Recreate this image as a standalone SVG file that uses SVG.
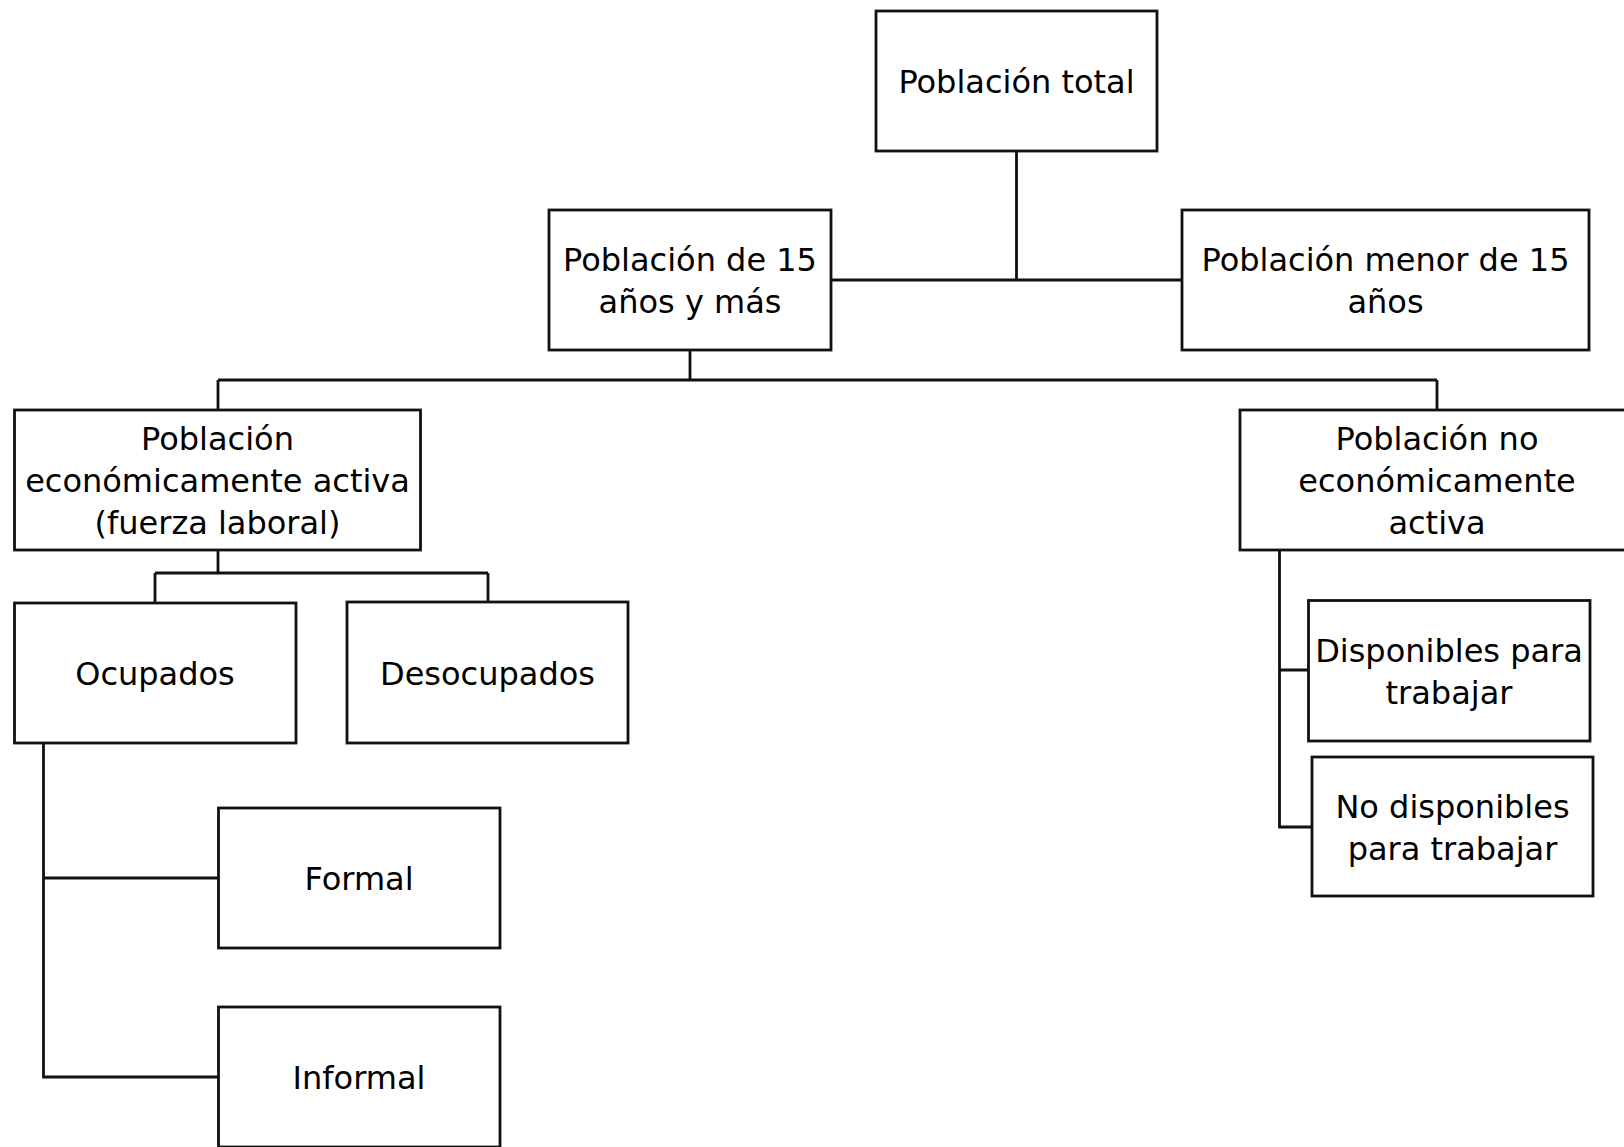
<svg xmlns="http://www.w3.org/2000/svg" width="1624" height="1147" viewBox="0 0 1624 1147">
<style>
.box{fill:#fff;stroke:#111;stroke-width:2.8}
.t{font-family:"DejaVu Sans","Noto Sans",sans-serif;font-size:32px;fill:#000;text-anchor:middle}
.c{fill:none;stroke:#111;stroke-width:2.8}
</style>
<rect width="1624" height="1147" fill="#fff"/>
<g id="connectors">
<path class="c" d="M1016.5,151 V280 M831,280 H1182"/>
<path class="c" d="M690,350 V380 M218,380 H1437 M218,380 V410 M1437,380 V410"/>
<path class="c" d="M218,550 V573 M155,573 H488 M155,573 V603 M488,573 V602"/>
<path class="c" d="M43.5,743 V1077 H218.5 M43.5,878 H218.5"/>
<path class="c" d="M1279.5,550 V827 H1312 M1279.5,670 H1308.5"/>
</g>
<g id="n1"><rect class="box" x="876" y="11" width="281" height="140"/><text class="t" x="1016.5" y="92.5">Población total</text></g>
<g id="n2"><rect class="box" x="549" y="210" width="282" height="140"/><text class="t" x="690" y="270.5">Población de 15</text><text class="t" x="690" y="312.5">años y más</text></g>
<g id="n3"><rect class="box" x="1182" y="210" width="407" height="140"/><text class="t" x="1385.5" y="270.5">Población menor de 15</text><text class="t" x="1385.5" y="312.5">años</text></g>
<g id="n4"><rect class="box" x="14.5" y="410" width="406" height="140"/><text class="t" x="217.5" y="449.5">Población</text><text class="t" x="217.5" y="491.5">económicamente activa</text><text class="t" x="217.5" y="533.5">(fuerza laboral)</text></g>
<g id="n5"><rect class="box" x="1240" y="410" width="420" height="140"/><text class="t" x="1437" y="449.5">Población no</text><text class="t" x="1437" y="491.5">económicamente</text><text class="t" x="1437" y="533.5">activa</text></g>
<g id="n6"><rect class="box" x="14.5" y="603" width="281.5" height="140"/><text class="t" x="155" y="684.5">Ocupados</text></g>
<g id="n7"><rect class="box" x="347" y="602" width="281" height="141"/><text class="t" x="487.5" y="684.5">Desocupados</text></g>
<g id="n8"><rect class="box" x="218.5" y="808" width="281.5" height="140"/><text class="t" x="359" y="889.5">Formal</text></g>
<g id="n9"><rect class="box" x="218.5" y="1007" width="281.5" height="140"/><text class="t" x="359" y="1088.5">Informal</text></g>
<g id="n10"><rect class="box" x="1308.5" y="600.5" width="281.5" height="140.5"/><text class="t" x="1449" y="661.5">Disponibles para</text><text class="t" x="1449" y="703.5">trabajar</text></g>
<g id="n11"><rect class="box" x="1312" y="757" width="281" height="139"/><text class="t" x="1452.5" y="817.5">No disponibles</text><text class="t" x="1452.5" y="859.5">para trabajar</text></g>
</svg>
